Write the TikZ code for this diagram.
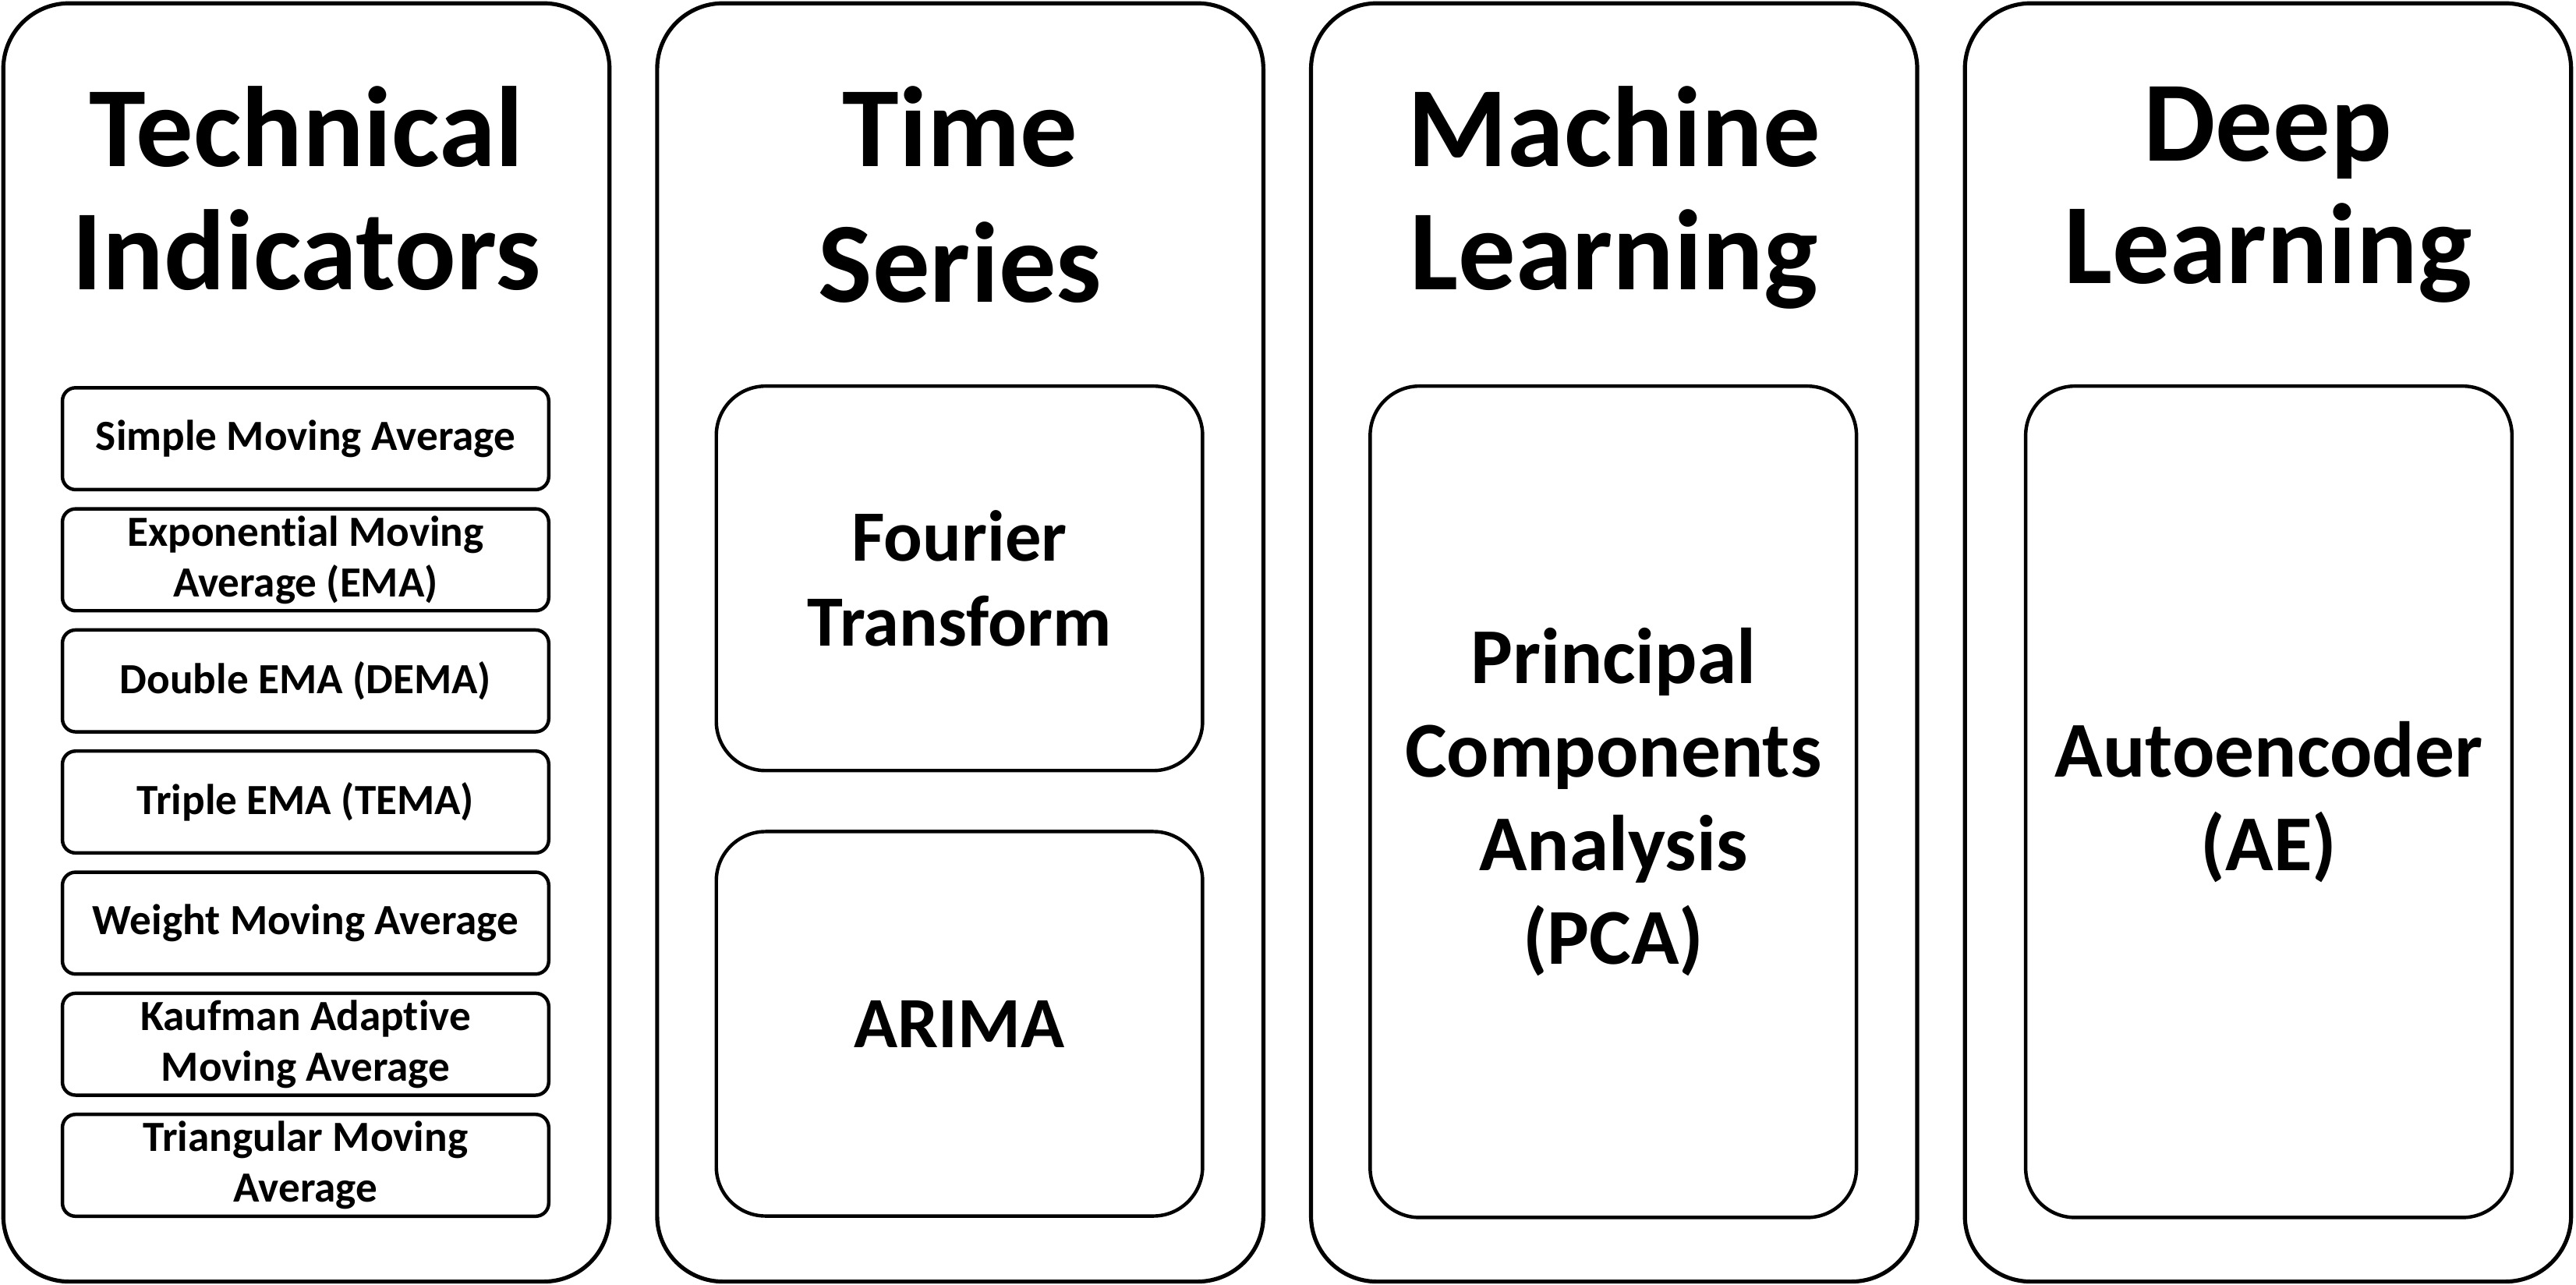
\documentclass[tikz,border=0pt]{standalone}
\usepackage{fontspec}
\setmainfont[Ligatures=NoCommon]{Carlito}
\usetikzlibrary{positioning}

\begin{document}
\begin{tikzpicture}[node distance=0.96mm,
  panel/.style = {draw, line width=0.7pt, rounded corners=4mm, minimum width=3.69cm, minimum height=7.78cm},
  heading/.style = {anchor=north, align=center, inner sep=0pt, font=\fontsize{19.8}{21.3}\selectfont\bfseries},
  indicator/.style = {draw, line width=0.6pt, rounded corners=0.8mm, minimum width=2.96cm, minimum height=0.62cm, inner sep=0pt, align=center, font=\fontsize{7.45}{8.8}\selectfont\bfseries},
  method/.style = {draw, line width=0.6pt, rounded corners=3mm, minimum width=2.96cm, inner sep=0pt, align=center},
  midtext/.style = {font=\fontsize{12.5}{14.8}\selectfont\bfseries},
  bigtext/.style = {font=\fontsize{13.7}{16.2}\selectfont\bfseries},
  ]
  \useasboundingbox (0,0) rectangle (15.68,-7.82);
  \node[panel] (tech) at (1.865,-3.91) {};
  \node[panel] (series) at (5.845,-3.91) {};
  \node[panel] (ml) at (9.825,-3.91) {};
  \node[panel] (dl) at (13.805,-3.91) {};

  \node[heading] (techTitle) at (1.865,-0.52) {Technical\\Indicators};
  \node[heading, font=\fontsize{19.8}{23.5}\selectfont\bfseries] (seriesTitle) at (5.845,-0.52) {Time\\Series};
  \node[heading] (mlTitle) at (9.825,-0.52) {Machine\\Learning};
  \node[heading] (dlTitle) at (13.805,-0.52) {Deep\\Learning};

  \node[indicator] (sma) at (1.86,-2.67) {Simple Moving Average};
  \node[indicator, below=of sma] (ema) {Exponential Moving\\Average (EMA)};
  \node[indicator, below=of ema] (dema) {Double EMA (DEMA)};
  \node[indicator, below=of dema] (tema) {Triple EMA (TEMA)};
  \node[indicator, below=of tema] (wma) {Weight Moving Average};
  \node[indicator, below=of wma] (kama) {Kaufman Adaptive\\Moving Average};
  \node[indicator, below=of kama] (trima) {Triangular Moving\\Average};

  \node[method, midtext, minimum height=2.34cm] (fourier) at (5.84,-3.52) {Fourier\\Transform};
  \node[method, midtext, minimum height=2.34cm, below=3.5mm of fourier] (arima) {ARIMA};

  \node[method, bigtext, minimum height=5.06cm] (pca) at (9.82,-4.88) {Principal\\Components\\Analysis\\(PCA)};
  \node[method, bigtext, minimum height=5.06cm] (ae) at (13.81,-4.88) {Autoencoder\\(AE)};
\end{tikzpicture}
\end{document}
